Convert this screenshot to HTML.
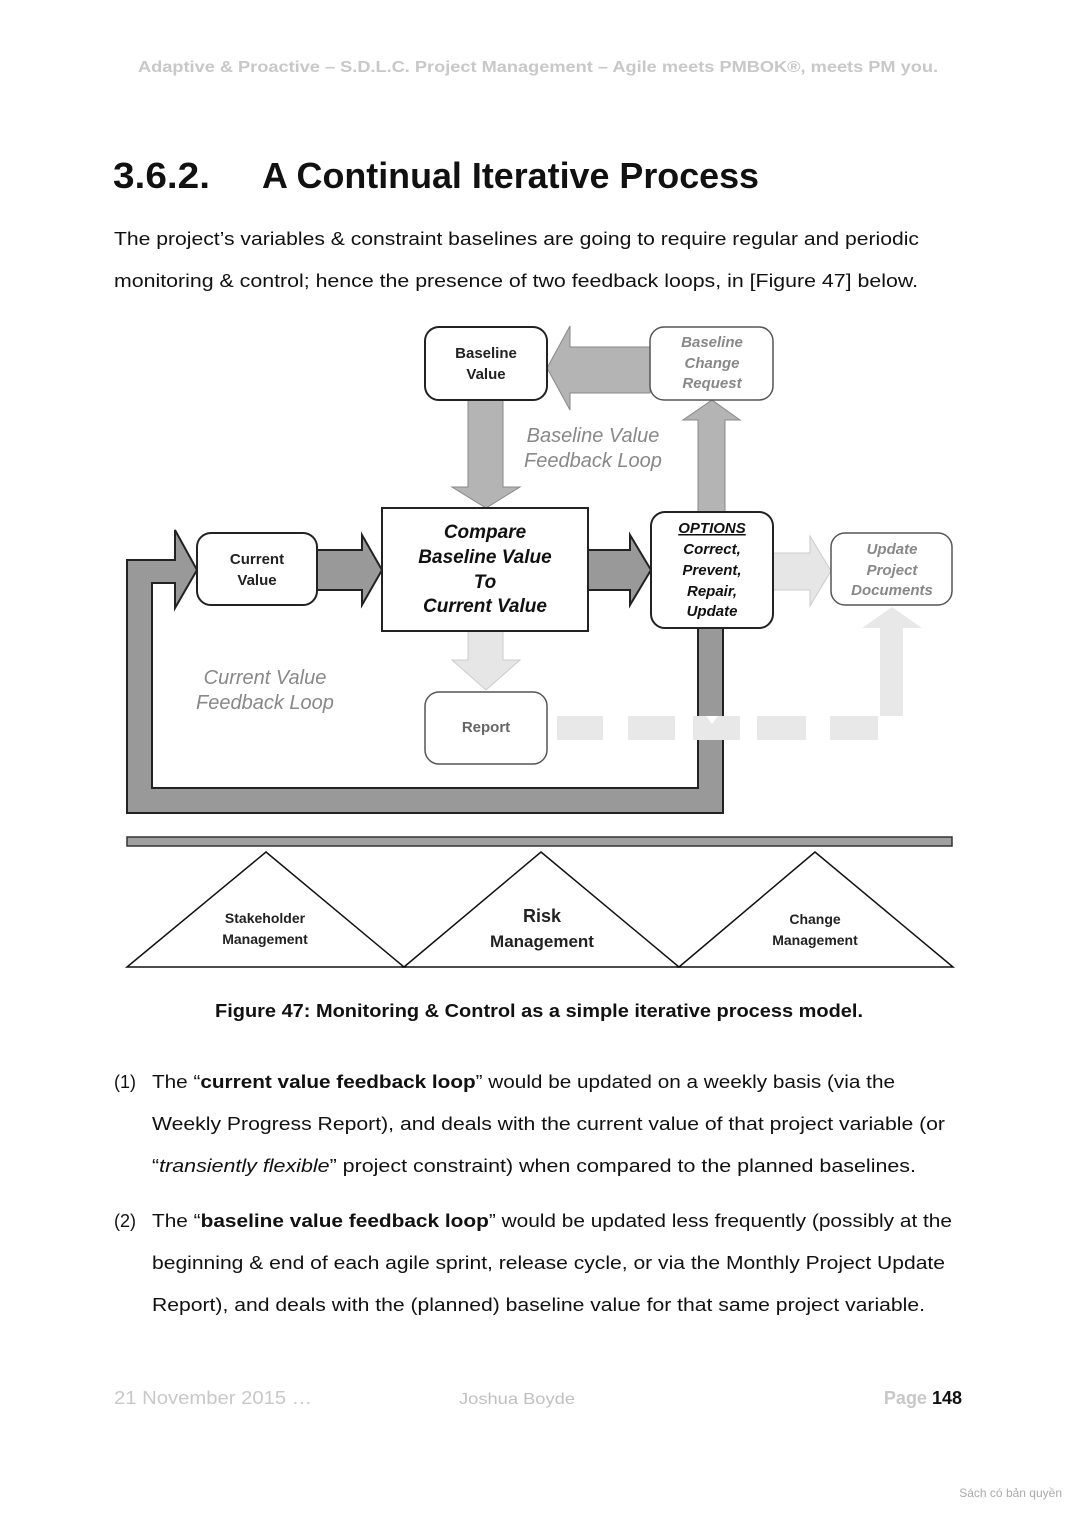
<!DOCTYPE html>
<html><head><meta charset="utf-8"><style>
html,body{margin:0;padding:0;background:#fff;}
svg{display:block;}
text{font-family:"Liberation Sans",sans-serif;}
</style></head><body>
<svg width="1077" height="1521" viewBox="0 0 1077 1521" xmlns="http://www.w3.org/2000/svg">
<rect width="1077" height="1521" fill="#fff"/>
<text x="538" y="72" text-anchor="middle" font-size="16" font-weight="bold" fill="#c8c8c8" textLength="800" lengthAdjust="spacingAndGlyphs">Adaptive &amp; Proactive – S.D.L.C. Project Management – Agile meets PMBOK®, meets PM you.</text>
<text x="113" y="188" font-size="36" font-weight="bold" fill="#111" textLength="97" lengthAdjust="spacingAndGlyphs">3.6.2.</text>
<text x="262" y="188" font-size="36" font-weight="bold" fill="#111" textLength="497" lengthAdjust="spacingAndGlyphs">A Continual Iterative Process</text>
<g font-size="18" fill="#111">
<text x="114" y="245" textLength="805" lengthAdjust="spacingAndGlyphs">The project’s variables &amp; constraint baselines are going to require regular and periodic</text>
<text x="114" y="287" textLength="804" lengthAdjust="spacingAndGlyphs">monitoring &amp; control; hence the presence of two feedback loops, in [Figure 47] below.</text>
</g>

<!-- diagram -->
<g stroke="#222" stroke-width="2">
<!-- big loop -->
<path d="M127,560 L175,560 L175,530 L197,570 L175,608 L175,583 L152,583 L152,788 L698,788 L698,628 L723,628 L723,813 L127,813 Z" fill="#999"/>
<!-- CV -> compare -->
<path d="M317,550 L362,550 L362,535 L382,570 L362,605 L362,590 L317,590 Z" fill="#999"/>
<!-- compare -> options -->
<path d="M588,550 L630,550 L630,535 L651,570 L630,605 L630,590 L588,590 Z" fill="#999"/>
</g>
<g stroke="#888" stroke-width="1" fill="#b4b4b4">
<!-- BCR -> BV -->
<path d="M650,347 L570,347 L570,326 L547,368 L570,410 L570,393 L650,393 Z"/>
<!-- BV down -->
<path d="M468,400 L503,400 L503,487 L520,487 L486,508 L452,487 L468,487 Z"/>
<!-- options up -->
<path d="M698,512 L725,512 L725,420 L740,420 L712,400 L683,420 L698,420 Z"/>
</g>
<g stroke="#ccc" stroke-width="1" fill="#e6e6e6">
<path d="M773,553 L810,553 L810,536 L831,571 L810,606 L810,590 L773,590 Z"/>
<path d="M468,631 L503,631 L503,660 L520,660 L486,690 L452,660 L468,660 Z"/>
</g>
<g fill="#e8e8e8">
<rect x="557" y="716" width="46" height="24"/>
<rect x="628" y="716" width="47" height="24"/>
<rect x="693" y="716" width="47" height="24"/>
<rect x="757" y="716" width="49" height="24"/>
<rect x="830" y="716" width="48" height="24"/>
<path d="M880,716 L880,628 L862,628 L892,607 L922,628 L903,628 L903,716 Z"/>
</g>
<path d="M712,724 L706,716 L718,716 Z" fill="#fff"/>

<!-- boxes -->
<g fill="#fff" stroke="#222" stroke-width="2">
<rect x="425" y="327" width="122" height="73" rx="14"/>
<rect x="197" y="533" width="120" height="72" rx="14"/>
<rect x="382" y="508" width="206" height="123"/>
<rect x="651" y="512" width="122" height="116" rx="14"/>
</g>
<g fill="#fff" stroke="#555" stroke-width="1.5">
<rect x="650" y="327" width="123" height="73" rx="14"/>
<rect x="831" y="533" width="121" height="72" rx="14"/>
<rect x="425" y="692" width="122" height="72" rx="14"/>
</g>

<g font-weight="bold" font-size="15" fill="#222" text-anchor="middle">
<text x="486" y="358">Baseline</text>
<text x="486" y="379">Value</text>
<text x="257" y="564">Current</text>
<text x="257" y="585">Value</text>
</g>
<g font-weight="bold" font-style="italic" font-size="19" fill="#111" text-anchor="middle">
<text x="485" y="538">Compare</text>
<text x="485" y="563">Baseline Value</text>
<text x="485" y="588">To</text>
<text x="485" y="612">Current Value</text>
</g>
<g font-weight="bold" font-style="italic" font-size="15" fill="#111" text-anchor="middle">
<text x="712" y="533" text-decoration="underline">OPTIONS</text>
<text x="712" y="554">Correct,</text>
<text x="712" y="575">Prevent,</text>
<text x="712" y="596">Repair,</text>
<text x="712" y="616">Update</text>
</g>
<g font-weight="bold" font-style="italic" font-size="15" fill="#888" text-anchor="middle">
<text x="712" y="347">Baseline</text>
<text x="712" y="368">Change</text>
<text x="712" y="388">Request</text>
<text x="892" y="554">Update</text>
<text x="892" y="575">Project</text>
<text x="892" y="595">Documents</text>
</g>
<text x="486" y="732" font-weight="bold" font-size="15" fill="#666" text-anchor="middle">Report</text>
<g font-style="italic" font-size="20" fill="#888" text-anchor="middle">
<text x="593" y="442">Baseline Value</text>
<text x="593" y="467">Feedback Loop</text>
<text x="265" y="684">Current Value</text>
<text x="265" y="709">Feedback Loop</text>
</g>

<!-- bar and triangles -->
<rect x="127" y="837" width="825" height="9" fill="#a0a0a0" stroke="#333" stroke-width="1.5"/>
<g fill="#fff" stroke="#111" stroke-width="1.5">
<path d="M127,967 L266,852 L404,967 Z"/>
<path d="M404,967 L541,852 L679,967 Z"/>
<path d="M679,967 L815,852 L953,967 Z"/>
</g>
<g font-weight="bold" fill="#222" text-anchor="middle">
<text x="265" y="923" font-size="14">Stakeholder</text>
<text x="265" y="944" font-size="14">Management</text>
<text x="542" y="922" font-size="18">Risk</text>
<text x="542" y="947" font-size="17">Management</text>
<text x="815" y="924" font-size="14">Change</text>
<text x="815" y="945" font-size="14">Management</text>
</g>

<text x="539" y="1017" text-anchor="middle" font-size="18" font-weight="bold" fill="#111" textLength="648" lengthAdjust="spacingAndGlyphs">Figure 47: Monitoring &amp; Control as a simple iterative process model.</text>

<g font-size="18" fill="#111">
<text x="114" y="1088">(1)</text>
<text x="152" y="1088" textLength="743" lengthAdjust="spacingAndGlyphs">The “<tspan font-weight="bold">current value feedback loop</tspan>” would be updated on a weekly basis (via the</text>
<text x="152" y="1130" textLength="793" lengthAdjust="spacingAndGlyphs">Weekly Progress Report), and deals with the current value of that project variable (or</text>
<text x="152" y="1172" textLength="764" lengthAdjust="spacingAndGlyphs">“<tspan font-style="italic">transiently flexible</tspan>” project constraint) when compared to the planned baselines.</text>
<text x="114" y="1227">(2)</text>
<text x="152" y="1227" textLength="800" lengthAdjust="spacingAndGlyphs">The “<tspan font-weight="bold">baseline value feedback loop</tspan>” would be updated less frequently (possibly at the</text>
<text x="152" y="1269" textLength="793" lengthAdjust="spacingAndGlyphs">beginning &amp; end of each agile sprint, release cycle, or via the Monthly Project Update</text>
<text x="152" y="1311" textLength="773" lengthAdjust="spacingAndGlyphs">Report), and deals with the (planned) baseline value for that same project variable.</text>
</g>

<text x="114" y="1404" font-size="18" fill="#c8c8c8" textLength="198" lengthAdjust="spacingAndGlyphs">21 November 2015 …</text>
<text x="459" y="1404" font-size="16" fill="#c0c0c0" textLength="116" lengthAdjust="spacingAndGlyphs">Joshua Boyde</text>
<text x="962" y="1404" font-size="18" font-weight="bold" text-anchor="end" fill="#c8c8c8">Page <tspan fill="#111">148</tspan></text>
<text x="1062" y="1497" font-size="12" text-anchor="end" fill="#aaa" font-family="Liberation Serif,serif">Sách có bản quyền</text>
</svg>
</body></html>
